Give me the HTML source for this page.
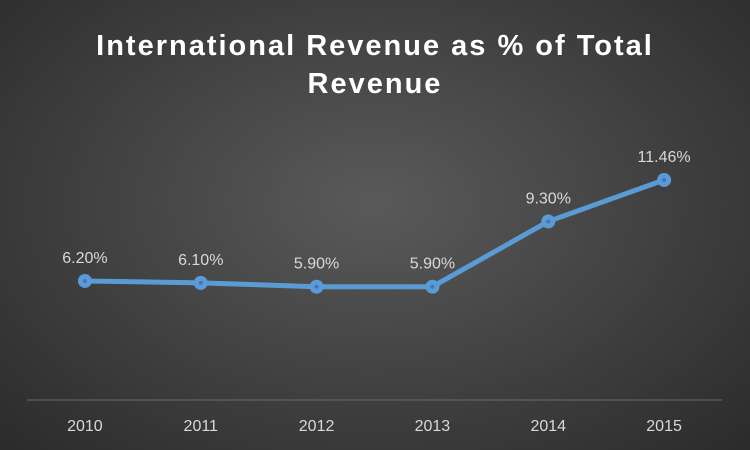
<!DOCTYPE html>
<html><head><meta charset="utf-8"><style>
html,body{margin:0;padding:0}
body{width:750px;height:450px;overflow:hidden;background:radial-gradient(ellipse at 50% 45%,#5a5a5a 0%,#404040 55%,#2b2b2b 100%);font-family:"Liberation Sans",sans-serif}
</style></head><body>
<svg id="chart" width="750" height="450" style="position:absolute;left:0;top:0">
<text x="375" y="55" text-anchor="middle" fill="#fff" font-size="29" font-weight="bold" letter-spacing="2" font-family="Liberation Sans, sans-serif">International Revenue as % of Total</text>
<text x="375" y="93" text-anchor="middle" fill="#fff" font-size="29" font-weight="bold" letter-spacing="2" font-family="Liberation Sans, sans-serif">Revenue</text>
<line x1="27" y1="400" x2="722" y2="400" stroke="#6a6a6a" stroke-width="1"/>
<g id="g"></g>
</svg>
<script>
const categories=["2010","2011","2012","2013","2014","2015"];
const values=[6.20,6.10,5.90,5.90,9.30,11.46];
const labels=["6.20%","6.10%","5.90%","5.90%","9.30%","11.46%"];
const left=27,right=722,y0=400,pxPerUnit=19.2;
const band=(right-left)/categories.length;
const xs=i=>left+band*(i+0.5);
const ys=v=>y0-v*pxPerUnit;
const ns="http://www.w3.org/2000/svg";
const g=document.getElementById('g');
function mk(t,a){const e=document.createElementNS(ns,t);for(const k in a)e.setAttribute(k,a[k]);g.appendChild(e);return e;}
categories.forEach((c,i)=>{
  const t=mk('text',{x:xs(i),y:431,'text-anchor':'middle',fill:'#d9d9d9','font-size':'16'});
  t.textContent=c;
  
  
});
const p=mk('polyline',{points:values.map((v,i)=>xs(i)+','+ys(v)).join(' '),fill:'none',stroke:'#5b9bd5','stroke-width':'5','stroke-linejoin':'round'});


values.forEach((v,i)=>{
  const c=mk('circle',{cx:xs(i),cy:ys(v),r:7,fill:'#5b9bd5'});
  
  
  const d=mk('circle',{cx:xs(i),cy:ys(v),r:2,fill:'#4472c4'});
  
  
  const t=mk('text',{x:xs(i),y:ys(v)-18,'text-anchor':'middle',fill:'#d9d9d9','font-size':'16'});
  t.textContent=labels[i];
  
  
});
</script>
</body></html>
